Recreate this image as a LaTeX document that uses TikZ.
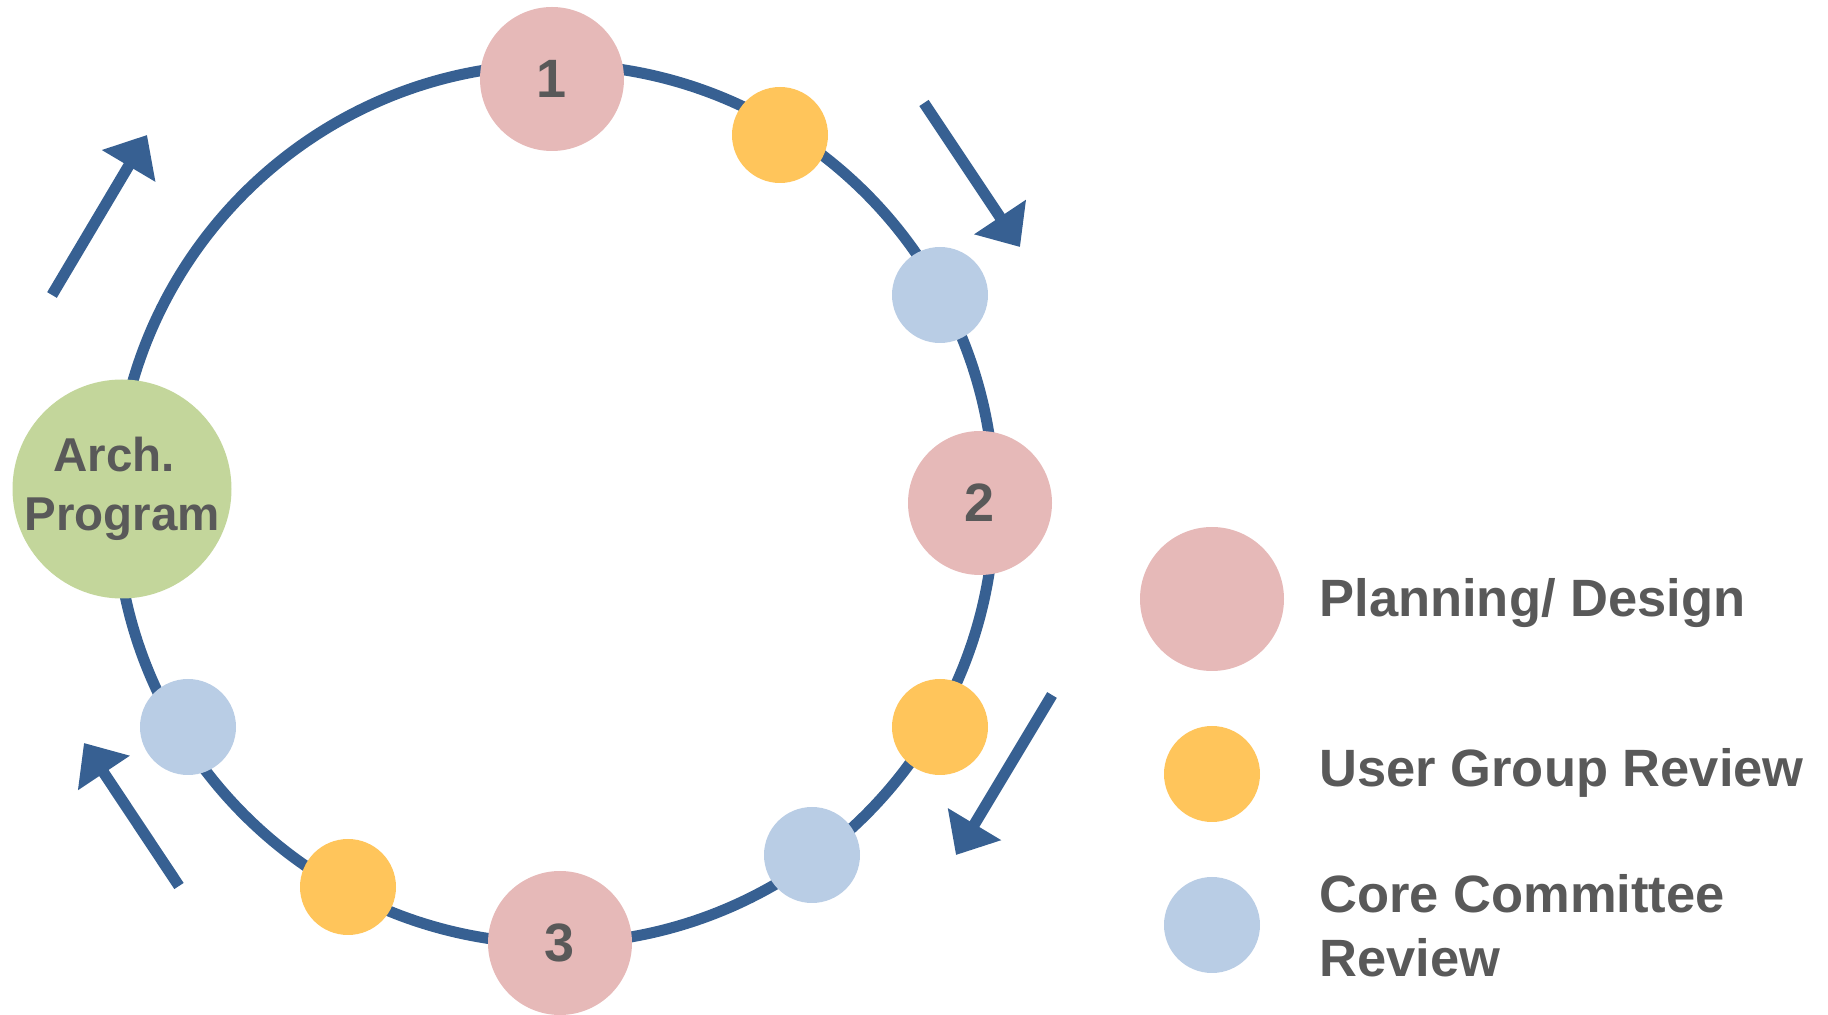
\documentclass[tikz,border=0pt]{standalone}
\usepackage{fontspec}
\setmainfont{Liberation Sans}
\usetikzlibrary{arrows.meta}
\definecolor{ringblue}{HTML}{376092}
\definecolor{pinkfill}{HTML}{E6B9B8}
\definecolor{orangefill}{HTML}{FFC55B}
\definecolor{bluefill}{HTML}{B9CDE5}
\definecolor{greenfill}{HTML}{C3D69B}
\definecolor{textgray}{HTML}{595959}
\tikzset{
  ring/.style={draw=ringblue, line width=5.5pt},
  flowarrow/.style={draw=ringblue, line width=5.6pt, -{Triangle[length=18pt,width=30pt]}},
  bigdot/.style={circle, fill=pinkfill, minimum size=72pt, inner sep=0pt, text=textgray, font=\fontsize{27}{32}\selectfont\bfseries},
  userdot/.style={circle, fill=orangefill, minimum size=48pt, inner sep=0pt},
  coredot/.style={circle, fill=bluefill, minimum size=48pt, inner sep=0pt},
  archdot/.style={circle, fill=greenfill, minimum size=109.5pt, inner sep=0pt},
  archtext/.style={inner sep=0pt, text=textgray, font=\fontsize{23.75}{29.5}\selectfont\bfseries},
  legendtext/.style={anchor=base west, inner sep=0pt, text=textgray, font=\fontsize{26.25}{32}\selectfont\bfseries},
}
\begin{document}
\begin{tikzpicture}[x=0.5pt,y=-0.5pt]
\useasboundingbox (0,0) rectangle (1828,1015);
% ring
\coordinate (ringcenter) at (555,504);
\draw[ring] (ringcenter) circle[radius=219.75pt];
% stages
\node[bigdot] (p1) at (552,79) {1};
\node[bigdot] (p2) at (980,503) {2};
\node[bigdot] (p3) at (560,943) {3};
\node[archdot] (arch) at (122,489) {};
\node[archtext] (archlabel) at (arch.center) {\begin{tabular}{@{}c@{}}Arch.\kern8pt\\Program\end{tabular}};
% reviews
\node[userdot] (u1) at (780,135) {};
\node[coredot] (c1) at (940,295) {};
\node[userdot] (u2) at (940,727) {};
\node[coredot] (c2) at (812,855) {};
\node[userdot] (u3) at (348,887) {};
\node[coredot] (c3) at (188,727) {};
% direction arrows
\coordinate (a1s) at (52,295);  \coordinate (a1e) at (147,135);
\coordinate (a2s) at (924,103); \coordinate (a2e) at (1020,247);
\coordinate (a3s) at (1052,695); \coordinate (a3e) at (956,855);
\coordinate (a4s) at (179,886); \coordinate (a4e) at (84,743);
\draw[flowarrow] (a1s) -- (a1e);
\draw[flowarrow] (a2s) -- (a2e);
\draw[flowarrow] (a3s) -- (a3e);
\draw[flowarrow] (a4s) -- (a4e);
% legend
\node[bigdot] (legplan) at (1212,599) {};
\node[userdot] (leguser) at (1212,774) {};
\node[coredot] (legcore) at (1212,925) {};
\node[legendtext] (txtplan) at (1319,617) {Planning/ Design};
\node[legendtext] (txtuser) at (1319,787) {User Group Review};
\node[legendtext] (txtcore) at (1319,913) {\begin{tabular}[t]{@{}l@{}}Core Committee\\Review\end{tabular}};
\end{tikzpicture}
\end{document}
